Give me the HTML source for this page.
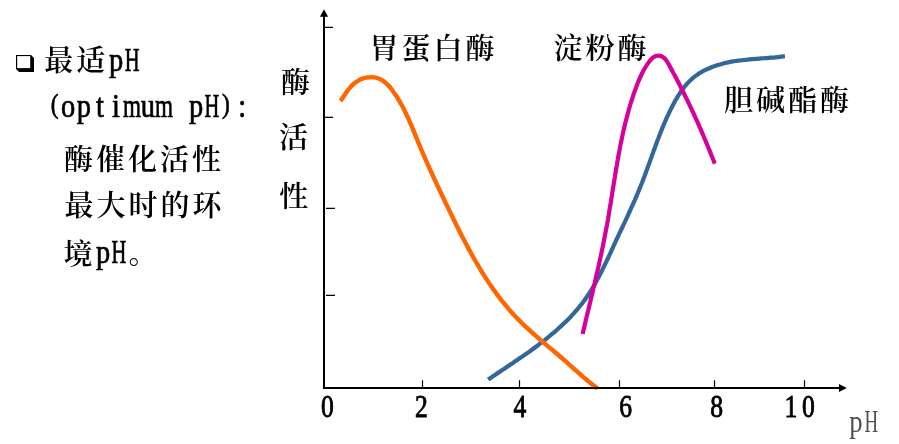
<!DOCTYPE html>
<html lang="zh-CN">
<head>
<meta charset="utf-8">
<title>最适pH (optimum pH): 酶催化活性最大时的环境pH。</title>
<style>
html,body{margin:0;padding:0;background:#fff;}
body{width:899px;height:444px;overflow:hidden;}
svg{display:block;}
.cjk{font-family:"Liberation Serif","Noto Serif CJK SC",serif;font-weight:600;fill:#000;}
.lat{font-family:"Liberation Serif",serif;stroke:#000;stroke-width:0.7px;}
.num{font-family:"Liberation Serif",serif;fill:#000;stroke:#000;stroke-width:0.9px;}
</style>
</head>
<body>
<svg width="899" height="444" viewBox="0 0 899 444" role="img" aria-label="最适pH (optimum pH): 酶催化活性最大时的环境pH。 酶活性 胃蛋白酶 淀粉酶 胆碱酯酶">
<rect width="899" height="444" fill="#fff"/>

<path d="M16 55 H31 L34 58 V72 H19 L16 69 Z" fill="#000"/>
<rect x="17.2" y="56.1" width="13" height="12" fill="#fff"/>

<path d="M488.1 379.6C488.7 379.2 490.6 377.9 491.9 377.1C493.2 376.2 494.4 375.3 495.7 374.5C497.0 373.6 498.3 372.7 499.6 371.9C500.9 371.0 502.2 370.1 503.5 369.3C504.8 368.4 506.1 367.5 507.4 366.6C508.7 365.8 510.0 364.9 511.3 364.0C512.6 363.1 514.0 362.2 515.3 361.3C516.6 360.4 517.9 359.5 519.2 358.6C520.5 357.7 521.8 356.8 523.1 355.9C524.5 355.0 525.8 354.1 527.1 353.2C528.4 352.2 529.7 351.3 531.0 350.4C532.3 349.4 533.6 348.5 534.9 347.5C536.1 346.6 537.4 345.6 538.7 344.7C540.0 343.7 541.3 342.7 542.5 341.7C543.8 340.8 545.1 339.8 546.3 338.8C547.6 337.8 548.8 336.8 550.0 335.7C551.3 334.7 552.5 333.7 553.7 332.7C554.9 331.6 556.1 330.6 557.3 329.5C558.5 328.5 559.7 327.4 560.8 326.3C562.0 325.3 563.2 324.2 564.3 323.1C565.4 322.0 566.6 320.9 567.7 319.8C568.8 318.6 569.9 317.5 571.0 316.4C572.1 315.2 573.1 314.1 574.2 312.9C575.2 311.7 576.3 310.5 577.3 309.3C578.3 308.1 579.3 306.9 580.3 305.7C581.3 304.5 582.2 303.3 583.2 302.0C584.1 300.8 585.0 299.5 585.9 298.2C586.8 296.9 587.7 295.6 588.6 294.3C589.5 293.0 590.3 291.7 591.1 290.3C592.0 289.0 592.8 287.7 593.6 286.3C594.4 285.0 595.1 283.6 595.9 282.2C596.7 280.8 597.4 279.4 598.2 278.0C598.9 276.6 599.6 275.2 600.4 273.8C601.1 272.4 601.8 271.0 602.5 269.6C603.2 268.2 603.9 266.7 604.6 265.3C605.3 263.9 606.0 262.4 606.6 261.0C607.3 259.5 608.0 258.1 608.7 256.7C609.3 255.2 610.0 253.8 610.7 252.3C611.3 250.9 612.0 249.4 612.7 248.0C613.3 246.5 614.0 245.1 614.7 243.6C615.3 242.2 616.0 240.7 616.7 239.3C617.3 237.9 618.0 236.4 618.7 235.0C619.4 233.5 620.0 232.1 620.7 230.7C621.4 229.2 622.1 227.8 622.7 226.4C623.4 224.9 624.1 223.5 624.8 222.1C625.4 220.6 626.1 219.2 626.8 217.7C627.4 216.3 628.1 214.9 628.8 213.4C629.4 212.0 630.1 210.6 630.7 209.1C631.4 207.7 632.0 206.2 632.7 204.8C633.3 203.4 634.0 201.9 634.6 200.5C635.2 199.0 635.9 197.6 636.5 196.1C637.1 194.7 637.7 193.2 638.3 191.8C638.9 190.3 639.5 188.9 640.1 187.4C640.7 185.9 641.3 184.5 641.9 183.0C642.5 181.5 643.0 180.1 643.6 178.6C644.2 177.1 644.7 175.6 645.3 174.1C645.8 172.7 646.4 171.2 646.9 169.7C647.5 168.2 648.0 166.7 648.5 165.2C649.1 163.8 649.6 162.3 650.1 160.8C650.7 159.3 651.2 157.8 651.7 156.3C652.3 154.8 652.8 153.3 653.3 151.8C653.9 150.3 654.4 148.9 655.0 147.4C655.5 145.9 656.0 144.4 656.6 142.9C657.1 141.4 657.7 139.9 658.3 138.5C658.8 137.0 659.4 135.5 660.0 134.0C660.5 132.5 661.1 131.1 661.7 129.6C662.3 128.1 662.9 126.7 663.5 125.2C664.1 123.7 664.8 122.3 665.4 120.8C666.0 119.4 666.7 117.9 667.3 116.5C668.0 115.0 668.7 113.6 669.4 112.1C670.1 110.7 670.8 109.3 671.5 107.9C672.2 106.4 673.0 105.0 673.7 103.6C674.5 102.2 675.2 100.8 676.0 99.4C676.8 98.0 677.7 96.7 678.5 95.3C679.4 94.0 680.2 92.6 681.1 91.3C682.0 90.0 683.0 88.7 683.9 87.5C684.9 86.3 685.9 85.1 686.9 83.9C688.0 82.7 689.0 81.6 690.2 80.5C691.3 79.5 692.4 78.4 693.6 77.4C694.8 76.5 696.1 75.5 697.3 74.7C698.6 73.8 699.9 72.9 701.3 72.2C702.6 71.4 704.0 70.6 705.4 69.9C706.9 69.2 708.3 68.6 709.8 68.0C711.2 67.4 712.7 66.8 714.2 66.3C715.7 65.7 717.3 65.2 718.8 64.8C720.4 64.3 721.9 63.9 723.5 63.5C725.1 63.1 726.6 62.7 728.2 62.4C729.8 62.0 731.4 61.7 733.0 61.4C734.6 61.2 736.2 60.9 737.8 60.7C739.4 60.5 740.9 60.2 742.5 60.1C744.1 59.9 745.7 59.7 747.2 59.6C748.8 59.4 750.4 59.3 751.9 59.1C753.5 59.0 755.1 58.9 756.6 58.8C758.2 58.7 759.7 58.6 761.3 58.4C762.9 58.3 764.4 58.2 766.0 58.1C767.5 58.0 769.1 57.9 770.7 57.7C772.2 57.6 773.8 57.5 775.4 57.3C777.0 57.1 778.5 57.0 780.1 56.8C781.7 56.6 784.1 56.2 784.9 56.1" fill="none" stroke="#336699" stroke-width="4.2"/>
<path d="M340.5 101.2C340.9 100.7 341.9 99.0 342.7 97.9C343.4 96.8 344.1 95.7 344.8 94.6C345.6 93.5 346.3 92.4 347.1 91.3C347.9 90.2 348.7 89.1 349.6 88.1C350.4 87.1 351.3 86.1 352.3 85.1C353.3 84.2 354.3 83.3 355.4 82.5C356.5 81.7 357.6 81.0 358.8 80.3C359.9 79.7 361.2 79.1 362.4 78.7C363.6 78.2 364.9 77.8 366.2 77.6C367.5 77.3 368.9 77.2 370.2 77.2C371.5 77.1 372.9 77.2 374.2 77.4C375.5 77.6 376.8 77.9 378.0 78.3C379.2 78.8 380.4 79.3 381.6 79.9C382.7 80.6 383.7 81.3 384.8 82.1C385.8 82.9 386.7 83.8 387.7 84.7C388.6 85.7 389.5 86.7 390.4 87.7C391.2 88.8 392.0 89.9 392.8 91.0C393.6 92.0 394.4 93.2 395.2 94.3C395.9 95.4 396.7 96.5 397.4 97.7C398.1 98.8 398.8 99.9 399.5 101.1C400.1 102.2 400.8 103.4 401.4 104.6C402.1 105.7 402.7 106.9 403.3 108.1C403.9 109.3 404.5 110.5 405.1 111.7C405.7 112.9 406.3 114.1 406.8 115.3C407.4 116.5 408.0 117.7 408.5 118.9C409.0 120.1 409.6 121.3 410.1 122.6C410.6 123.8 411.2 125.0 411.7 126.2C412.2 127.5 412.7 128.7 413.2 129.9C413.7 131.2 414.2 132.4 414.7 133.6C415.2 134.9 415.7 136.1 416.2 137.3C416.7 138.5 417.2 139.8 417.7 141.0C418.2 142.2 418.7 143.5 419.3 144.7C419.8 145.9 420.3 147.1 420.8 148.4C421.3 149.6 421.8 150.8 422.3 152.0C422.9 153.3 423.4 154.5 423.9 155.7C424.4 156.9 425.0 158.1 425.5 159.3C426.0 160.6 426.6 161.8 427.1 163.0C427.6 164.2 428.2 165.4 428.7 166.6C429.3 167.8 429.8 169.0 430.4 170.2C430.9 171.4 431.4 172.6 432.0 173.8C432.5 175.0 433.1 176.3 433.7 177.5C434.2 178.7 434.8 179.9 435.3 181.1C435.9 182.3 436.4 183.5 437.0 184.7C437.6 185.9 438.1 187.1 438.7 188.3C439.3 189.5 439.8 190.7 440.4 191.9C441.0 193.1 441.5 194.3 442.1 195.5C442.7 196.7 443.2 197.9 443.8 199.1C444.4 200.3 445.0 201.5 445.5 202.7C446.1 203.8 446.7 205.0 447.3 206.2C447.8 207.4 448.4 208.6 449.0 209.8C449.6 211.0 450.2 212.2 450.7 213.4C451.3 214.6 451.9 215.8 452.5 217.0C453.1 218.2 453.7 219.4 454.2 220.6C454.8 221.8 455.4 223.0 456.0 224.2C456.6 225.4 457.2 226.6 457.8 227.8C458.4 229.0 459.0 230.2 459.6 231.4C460.2 232.6 460.8 233.8 461.4 235.0C462.0 236.2 462.6 237.4 463.2 238.5C463.8 239.7 464.5 240.9 465.1 242.1C465.7 243.3 466.3 244.5 467.0 245.6C467.6 246.8 468.2 248.0 468.8 249.2C469.5 250.3 470.1 251.5 470.8 252.7C471.4 253.8 472.0 255.0 472.7 256.2C473.3 257.3 474.0 258.5 474.7 259.7C475.3 260.8 476.0 262.0 476.7 263.1C477.3 264.3 478.0 265.4 478.7 266.5C479.4 267.7 480.0 268.8 480.7 270.0C481.4 271.1 482.1 272.2 482.8 273.4C483.5 274.5 484.2 275.6 484.9 276.7C485.7 277.8 486.4 279.0 487.1 280.1C487.8 281.2 488.6 282.3 489.3 283.4C490.0 284.5 490.8 285.6 491.5 286.7C492.3 287.7 493.0 288.8 493.8 289.9C494.6 291.0 495.3 292.1 496.1 293.1C496.9 294.2 497.7 295.3 498.5 296.3C499.3 297.4 500.1 298.4 500.9 299.5C501.7 300.5 502.5 301.5 503.4 302.6C504.2 303.6 505.0 304.6 505.9 305.7C506.7 306.7 507.6 307.7 508.4 308.7C509.3 309.7 510.1 310.7 511.0 311.7C511.9 312.7 512.8 313.7 513.7 314.6C514.6 315.6 515.5 316.6 516.4 317.5C517.3 318.5 518.2 319.5 519.2 320.4C520.1 321.3 521.0 322.3 522.0 323.2C522.9 324.1 523.9 325.1 524.9 326.0C525.8 326.9 526.8 327.8 527.8 328.7C528.8 329.6 529.8 330.5 530.8 331.4C531.8 332.3 532.8 333.2 533.8 334.1C534.8 335.0 535.8 335.9 536.8 336.7C537.8 337.6 538.8 338.5 539.8 339.4C540.8 340.2 541.9 341.1 542.9 342.0C543.9 342.8 544.9 343.7 546.0 344.6C547.0 345.4 548.0 346.3 549.0 347.1C550.0 348.0 551.1 348.9 552.1 349.7C553.1 350.6 554.1 351.4 555.1 352.3C556.2 353.2 557.2 354.0 558.2 354.9C559.2 355.8 560.2 356.6 561.2 357.5C562.2 358.4 563.2 359.2 564.2 360.1C565.2 361.0 566.2 361.8 567.2 362.7C568.1 363.6 569.1 364.5 570.1 365.3C571.1 366.2 572.1 367.1 573.0 368.0C574.0 368.8 575.0 369.7 576.0 370.6C577.0 371.5 578.0 372.3 579.0 373.2C580.0 374.1 580.9 374.9 581.9 375.8C582.9 376.7 583.9 377.5 585.0 378.4C586.0 379.3 587.0 380.1 588.0 381.0C589.0 381.8 590.1 382.7 591.1 383.5C592.1 384.4 593.2 385.2 594.3 386.0C595.3 386.9 596.9 388.1 597.5 388.5" fill="none" stroke="#ff6600" stroke-width="4.4"/>
<path d="M582.6 334.1C582.8 333.3 583.3 331.0 583.7 329.5C584.0 328.0 584.4 326.5 584.7 325.0C585.1 323.4 585.5 321.9 585.8 320.4C586.2 318.9 586.5 317.4 586.9 315.8C587.3 314.3 587.6 312.8 588.0 311.3C588.4 309.8 588.7 308.3 589.1 306.7C589.5 305.2 589.8 303.7 590.2 302.2C590.5 300.7 590.9 299.2 591.3 297.6C591.6 296.1 592.0 294.6 592.3 293.1C592.7 291.6 593.1 290.0 593.4 288.5C593.8 287.0 594.1 285.5 594.5 284.0C594.8 282.4 595.2 280.9 595.5 279.4C595.9 277.9 596.2 276.4 596.6 274.8C596.9 273.3 597.3 271.8 597.6 270.3C598.0 268.7 598.3 267.2 598.7 265.7C599.0 264.2 599.3 262.7 599.7 261.1C600.0 259.6 600.3 258.1 600.7 256.5C601.0 255.0 601.3 253.5 601.6 252.0C602.0 250.4 602.3 248.9 602.6 247.4C602.9 245.9 603.2 244.3 603.5 242.8C603.8 241.3 604.1 239.7 604.4 238.2C604.7 236.7 605.0 235.1 605.3 233.6C605.6 232.1 605.9 230.5 606.2 229.0C606.5 227.5 606.8 225.9 607.1 224.4C607.3 222.9 607.6 221.3 607.9 219.8C608.1 218.2 608.4 216.7 608.7 215.2C608.9 213.6 609.2 212.1 609.4 210.5C609.7 209.0 610.0 207.4 610.2 205.9C610.5 204.4 610.7 202.8 611.0 201.3C611.2 199.7 611.5 198.2 611.7 196.6C612.0 195.1 612.2 193.6 612.4 192.0C612.7 190.5 612.9 188.9 613.2 187.4C613.4 185.8 613.7 184.3 613.9 182.8C614.2 181.2 614.4 179.7 614.7 178.1C614.9 176.6 615.2 175.0 615.4 173.5C615.7 172.0 615.9 170.4 616.2 168.9C616.4 167.3 616.7 165.8 617.0 164.3C617.2 162.7 617.5 161.2 617.8 159.6C618.0 158.1 618.3 156.6 618.6 155.0C618.9 153.5 619.2 152.0 619.5 150.4C619.7 148.9 620.0 147.4 620.3 145.8C620.6 144.3 620.9 142.8 621.3 141.3C621.6 139.7 621.9 138.2 622.2 136.7C622.5 135.2 622.9 133.6 623.2 132.1C623.5 130.6 623.9 129.1 624.2 127.6C624.6 126.1 625.0 124.5 625.3 123.0C625.7 121.5 626.1 120.0 626.5 118.5C626.9 117.0 627.2 115.5 627.7 114.0C628.1 112.5 628.5 111.0 628.9 109.5C629.3 108.0 629.8 106.5 630.2 105.0C630.7 103.5 631.1 102.0 631.6 100.5C632.1 99.0 632.6 97.5 633.0 96.1C633.5 94.6 634.0 93.1 634.6 91.6C635.1 90.1 635.6 88.7 636.2 87.2C636.7 85.7 637.3 84.3 637.8 82.8C638.4 81.3 639.0 79.9 639.7 78.5C640.3 77.0 640.9 75.6 641.6 74.2C642.3 72.8 643.0 71.4 643.8 70.0C644.6 68.6 645.4 67.3 646.2 66.0C647.1 64.7 647.9 63.3 648.9 62.1C649.8 60.8 650.8 59.5 651.9 58.4C653.1 57.4 654.3 56.4 655.7 56.0C657.1 55.6 658.9 55.6 660.3 55.9C661.8 56.3 663.3 57.2 664.4 58.2C665.6 59.1 666.4 60.5 667.3 61.8C668.1 63.1 668.8 64.6 669.6 65.9C670.3 67.3 671.1 68.7 671.8 70.1C672.6 71.5 673.3 72.9 674.1 74.3C674.8 75.6 675.6 77.0 676.3 78.4C677.0 79.8 677.8 81.2 678.5 82.6C679.2 84.0 679.9 85.4 680.6 86.8C681.3 88.2 682.0 89.6 682.7 91.0C683.4 92.4 684.1 93.8 684.8 95.2C685.5 96.6 686.2 98.0 686.9 99.4C687.6 100.8 688.2 102.2 688.9 103.6C689.6 105.0 690.3 106.4 690.9 107.8C691.6 109.2 692.2 110.6 692.9 112.0C693.6 113.5 694.2 114.9 694.8 116.3C695.5 117.7 696.1 119.1 696.8 120.5C697.4 122.0 698.0 123.4 698.7 124.8C699.3 126.2 699.9 127.7 700.6 129.1C701.2 130.5 701.8 131.9 702.4 133.4C703.0 134.8 703.6 136.2 704.2 137.7C704.8 139.1 705.4 140.5 706.0 142.0C706.6 143.4 707.2 144.9 707.8 146.3C708.4 147.7 709.0 149.2 709.6 150.6C710.2 152.1 710.8 153.5 711.3 155.0C711.9 156.4 712.5 157.9 713.1 159.4C713.6 160.8 714.5 163.0 714.8 163.7" fill="none" stroke="#d6009a" stroke-width="4.2"/>


<g stroke="#000" fill="none">
<path d="M324 16 V389" stroke-width="2"/>
<path d="M323 388 H840" stroke-width="2"/>
<g stroke-width="1.2">
<path d="M325 27.4H333M325 117.4H333M326 208.4H335M326 295.4H335"/>
<path d="M422.5 380.2V387M519.5 380.2V387M619.5 380.2V387M714.5 380.2V387M804.5 380.2V387"/>
</g>
</g>
<path d="M324 9.3 L328.1 16.8 H319.9 Z" fill="#000"/>
<path d="M846.8 388 L839 384 V392 Z" fill="#000"/>

<text class="cjk" x="58.80 90.80" y="71.44" font-size="29" text-anchor="middle" >最适</text>
<text class="lat" transform="scale(0.85,1)" x="136.7 155.5" y="70.8 70.8" font-size="33.5" text-anchor="middle" fill="#000" >p<tspan textLength="17.4" lengthAdjust="spacingAndGlyphs">H</tspan></text>
<text class="lat" transform="scale(0.85,1)" x="64.4 80.0 98.8 117.6 136.5 155.3 174.1 192.9 211.8 230.6 249.4 265.9 285.1" y="113.5 116.8 116.8 116.8 116.8 116.8 116.8 116.8 116.8 116.8 116.8 113.5 116.8" font-size="33.5" text-anchor="middle" fill="#000" ><tspan font-size="27.5">(</tspan>opti<tspan textLength="21.2" lengthAdjust="spacingAndGlyphs">m</tspan>u<tspan textLength="21.2" lengthAdjust="spacingAndGlyphs">m</tspan> p<tspan textLength="17.4" lengthAdjust="spacingAndGlyphs">H</tspan><tspan font-size="27.5">)</tspan>:</text>
<text class="cjk" x="78.40 110.40 142.40 174.40 206.40" y="169.94" font-size="29" text-anchor="middle" >酶催化活性</text>
<text class="cjk" x="78.90 110.90 142.90 174.90 206.90" y="215.94" font-size="29" text-anchor="middle" >最大时的环</text>
<text class="cjk" x="78.00" y="264.64" font-size="29" text-anchor="middle" >境</text>
<text class="lat" transform="scale(0.85,1)" x="121.2 140.0" y="263.0 263.0" font-size="33.5" text-anchor="middle" fill="#000" >p<tspan textLength="17.4" lengthAdjust="spacingAndGlyphs">H</tspan></text>
<text class="cjk" x="143.00" y="263.94" font-size="29" text-anchor="middle" >。</text>
<text class="cjk" x="295.60" y="93.04" font-size="29" text-anchor="middle" >酶</text>
<text class="cjk" x="293.50" y="147.74" font-size="29" text-anchor="middle" >活</text>
<text class="cjk" x="293.70" y="206.84" font-size="29" text-anchor="middle" >性</text>
<text class="cjk" x="383.90 415.90 447.90 479.90" y="58.94" font-size="29" text-anchor="middle" >胃蛋白酶</text>
<text class="cjk" x="567.90 599.90 631.90" y="58.94" font-size="29" text-anchor="middle" >淀粉酶</text>
<text class="cjk" x="738.40 770.40 802.40 834.40" y="110.64" font-size="29" text-anchor="middle" >胆碱酯酶</text>
<text class="num" transform="scale(0.8,1)" x="409.12" y="417.20" font-size="32" text-anchor="middle">0</text>
<text class="num" transform="scale(0.8,1)" x="526.88" y="417.20" font-size="32" text-anchor="middle">2</text>
<text class="num" transform="scale(0.8,1)" x="650.00" y="417.20" font-size="32" text-anchor="middle">4</text>
<text class="num" transform="scale(0.8,1)" x="782.12" y="417.20" font-size="32" text-anchor="middle">6</text>
<text class="num" transform="scale(0.8,1)" x="895.88" y="417.20" font-size="32" text-anchor="middle">8</text>
<text class="num" transform="scale(0.8,1)" x="988.50 1010.62" y="417.2" font-size="32" text-anchor="middle">10</text>
<text class="lat" transform="scale(0.85,1)" x="1007.1 1025.1" y="431.6 431.6" font-size="31.5" text-anchor="middle" fill="#505050" style="stroke:none">p<tspan textLength="16.0" lengthAdjust="spacingAndGlyphs">H</tspan></text>
</svg>
</body>
</html>
